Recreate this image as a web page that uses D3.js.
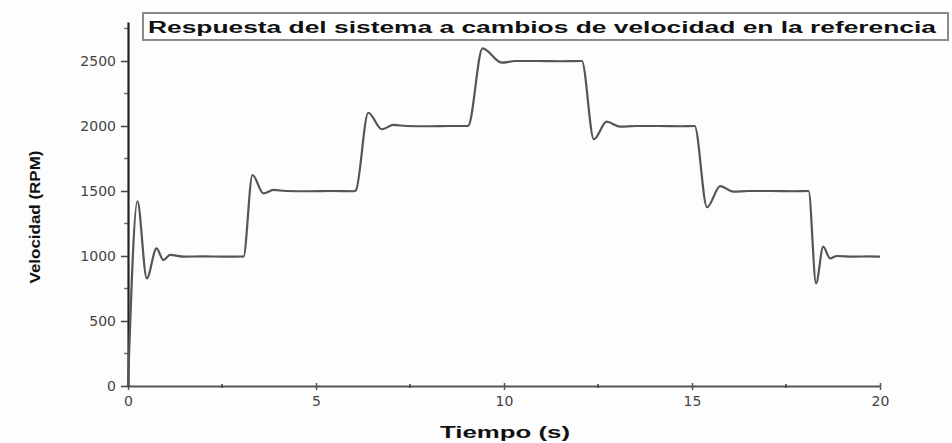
<!DOCTYPE html>
<html>
<head>
<meta charset="utf-8">
<script src="https://cdn.jsdelivr.net/npm/d3@7"></script>
<style>
  html, body { margin: 0; padding: 0; background: #fdfdfd; }
  svg { display: block; }
</style>
</head>
<body>
<svg id="chart" width="952" height="443"></svg>
<script>
// Speed response of the motor to step changes of the reference
const tiempo = [0, 0.25, 0.5, 0.76, 0.94, 1.12, 1.5, 2.0, 2.5, 3.0, 3.07,
  3.31, 3.6, 3.87, 4.2, 4.8, 5.4, 6.0, 6.06,
  6.39, 6.75, 7.06, 7.4, 8.0, 8.6, 9.0, 9.05,
  9.43, 9.94, 10.3, 10.9, 11.5, 12.07,
  12.39, 12.73, 13.09, 13.5, 14.1, 14.7, 15.07,
  15.4, 15.75, 16.1, 16.5, 17.1, 17.7, 18.1,
  18.3, 18.49, 18.67, 18.85, 19.3, 19.7, 20.0];
const velocidad = [0, 1420, 828, 1059, 969, 1008, 995, 997, 995, 996, 995,
  1623, 1482, 1508, 1500, 1498, 1500, 1498, 1505,
  2102, 1975, 2008, 2000, 1998, 2000, 2000, 2002,
  2597, 2487, 2500, 2500, 2498, 2500,
  1898, 2033, 1995, 2000, 2000, 1998, 2000,
  1375, 1538, 1495, 1500, 1500, 1498, 1500,
  790, 1072, 982, 1000, 995, 997, 995];

const xTicks = [0, 5, 10, 15, 20];
const yTicks = [0, 500, 1000, 1500, 2000, 2500];
const titulo = "Respuesta del sistema a cambios de velocidad en la referencia";
const etiquetaX = "Tiempo (s)";
const etiquetaY = "Velocidad (RPM)";

const svg = d3.select("#chart");
const x = d3.scaleLinear().domain([0, 20]).range([128, 880]);
const y = d3.scaleLinear().domain([0, 2800]).range([386, 22]);

// minor ticks
const xMinor = d3.range(0, 20.01, 2.5).filter(v => !xTicks.includes(v));
const yMinor = d3.range(0, 2800, 250).filter(v => !yTicks.includes(v));

svg.append("g").selectAll("line").data(yMinor).join("line")
  .attr("x1", x(0) - 4).attr("x2", x(0))
  .attr("y1", d => y(d)).attr("y2", d => y(d))
  .attr("stroke", "#777").attr("stroke-width", 1.5);
svg.append("g").selectAll("line").data(xMinor).join("line")
  .attr("x1", d => x(d)).attr("x2", d => x(d))
  .attr("y1", y(0) - 2).attr("y2", y(0) + 2)
  .attr("stroke", "#666").attr("stroke-width", 2);

// x axis
const gx = svg.append("g").attr("transform", `translate(0,${y(0)})`)
  .call(d3.axisBottom(x).tickValues(xTicks).tickFormat(d3.format("d"))
    .tickSizeInner(4).tickSizeOuter(0).tickPadding(6));
gx.select(".domain").attr("stroke", "#555").attr("stroke-width", 2);
gx.selectAll(".tick line").attr("stroke", "#555").attr("stroke-width", 1.5).attr("y1", -3);
gx.selectAll(".tick text").attr("font-family", "DejaVu Sans, sans-serif")
  .attr("font-size", 14).attr("fill", "#444");

// y axis
const gy = svg.append("g").attr("transform", `translate(${x(0)},0)`)
  .call(d3.axisLeft(y).tickValues(yTicks).tickFormat(d3.format("d"))
    .tickSizeInner(7).tickSizeOuter(0).tickPadding(5));
gy.select(".domain").attr("stroke", "#222").attr("stroke-width", 2.2);
gy.selectAll(".tick line").attr("stroke", "#444").attr("stroke-width", 1.5);
gy.selectAll(".tick text").attr("font-family", "DejaVu Sans, sans-serif")
  .attr("font-size", 14).attr("fill", "#444");

// response curve
const pts = tiempo.map((t, i) => [t, velocidad[i]]);
svg.append("path").datum(pts)
  .attr("fill", "none").attr("stroke", "#555").attr("stroke-width", 2.2)
  .attr("stroke-linejoin", "round")
  .attr("d", d3.line().curve(d3.curveMonotoneX).x(d => x(d[0])).y(d => y(d[1])));

// title box
svg.append("rect").attr("x", 143).attr("y", 13).attr("width", 805).attr("height", 27)
  .attr("fill", "#fff").attr("stroke", "#8a8a8a").attr("stroke-width", 2);
svg.append("text").attr("x", 148).attr("y", 33)
  .attr("font-family", "Liberation Sans, Arial, sans-serif").attr("font-weight", "bold")
  .attr("font-size", 16).attr("fill", "#111")
  .attr("textLength", 788).attr("lengthAdjust", "spacingAndGlyphs")
  .text(titulo);

// axis titles
svg.append("text").attr("x", 505).attr("y", 438).attr("text-anchor", "middle")
  .attr("font-family", "Liberation Sans, Arial, sans-serif").attr("font-weight", "bold")
  .attr("font-size", 16).attr("fill", "#111")
  .attr("textLength", 130).attr("lengthAdjust", "spacingAndGlyphs")
  .text(etiquetaX);
svg.append("text").attr("transform", "translate(40,217) rotate(-90)")
  .attr("text-anchor", "middle")
  .attr("font-family", "Liberation Sans, Arial, sans-serif").attr("font-weight", "bold")
  .attr("font-size", 15).attr("fill", "#111")
  .attr("textLength", 133).attr("lengthAdjust", "spacingAndGlyphs")
  .text(etiquetaY);
</script>
</body>
</html>
